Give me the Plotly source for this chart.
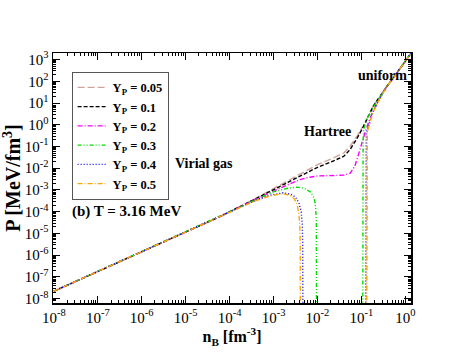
import plotly.graph_objects as go

# ---- data ----
# common low-density (virial) branch shared by all Y_P
n_low = [1e-8, 1e-7, 1e-6, 1e-5, 3e-5, 6e-5]
P_low = [2.2e-8, 1.8e-7, 1.45e-6, 1.15e-5, 3.1e-5, 5.9e-5]

# common high-density (uniform) branch
n_uni = [0.38, 0.63, 1.0, 1.35]
P_uni = [57.5, 224, 832, 2000]

n_005 = [3.5e-4, 2e-3, 6e-3, 1e-2, 2e-2, 4e-2, 5.5e-2, 8e-2, 0.11, 0.19]
P_005 = [3.63e-4, 2.5e-3, 8.3e-3, 1.45e-2, 2.6e-2, 5.0e-2, 0.1, 0.3, 0.89, 7.9]

n_01 = [3.5e-4, 2e-3, 6e-3, 1e-2, 2e-2, 4e-2, 5.5e-2, 8e-2, 0.11, 0.19]
P_01 = [3.5e-4, 2.04e-3, 6.3e-3, 1.1e-2, 1.9e-2, 3.55e-2, 7.1e-2, 0.24, 0.79, 7.6]

n_02 = [3.5e-4, 1e-3, 2e-3, 4e-3, 6.3e-3, 1e-2, 2e-2, 4e-2, 5.6e-2, 7.1e-2, 8.5e-2, 0.1, 0.12, 0.145, 0.178, 0.25]
P_02 = [3.3e-4, 8.9e-4, 1.66e-3, 3.0e-3, 3.8e-3, 4.4e-3, 4.7e-3, 4.8e-3, 6.0e-3, 1.26e-2, 4.0e-2, 0.126, 0.4, 1.26, 3.55, 14.1]

n_03_a = [3.5e-4, 1e-3, 2e-3, 3.4e-3, 5e-3, 7.1e-3, 8.5e-3, 9.1e-3, 9.44e-3, 9.55e-3, 9.55e-3]
P_03_a = [3.16e-4, 8.3e-4, 1.17e-3, 1.35e-3, 1.2e-3, 7.9e-4, 4.0e-4, 1.6e-4, 3.2e-5, 1e-6, 1e-9]
n_03_b = [0.1076, 0.1079, 0.1084, 0.1096, 0.1135, 0.132, 0.186, 0.251]
P_03_b = [1e-9, 1e-4, 3.2e-2, 0.2, 0.63, 1.7, 6.3, 15.8]

n_04_a = [3.47e-4, 7.9e-4, 1.66e-3, 2.5e-3, 3.16e-3, 3.8e-3, 4.27e-3, 4.52e-3, 4.62e-3, 4.68e-3]
P_04_a = [3.0e-4, 5.6e-4, 7.4e-4, 6.3e-4, 4.7e-4, 2.5e-4, 1e-4, 2.5e-5, 3.2e-6, 1e-9]
n_04_b = [0.1259, 0.1262, 0.1268, 0.1288, 0.1445, 0.186, 0.245]
P_04_b = [1e-9, 1e-4, 0.1, 0.4, 0.85, 4.2, 12.6]

n_05_a = [3.47e-4, 7.9e-4, 1.58e-3, 2.4e-3, 3.0e-3, 3.47e-3, 3.8e-3, 3.98e-3, 4.06e-3, 4.07e-3]
P_05_a = [2.9e-4, 5.2e-4, 6.8e-4, 5.6e-4, 3.8e-4, 2.0e-4, 7.9e-5, 2.0e-5, 2.5e-6, 1e-9]
n_05_b = [0.1327, 0.1330, 0.1337, 0.1365, 0.1514, 0.186, 0.251]
P_05_b = [1e-9, 1e-4, 0.1, 0.45, 1.0, 4.0, 13.2]

labels = ["0.05", "0.1", "0.2", "0.3", "0.4", "0.5"]
x_tick_exps = [-8, -7, -6, -5, -4, -3, -2, -1, 0]
y_tick_exps = [3, 2, 1, 0, -1, -2, -3, -4, -5, -6, -7, -8]

# ---- build series ----
series_x = [
    n_low + n_005 + n_uni,
    n_low + n_01 + n_uni,
    n_low + n_02 + n_uni,
    n_low + n_03_a + [None] + n_03_b + n_uni,
    n_low + n_04_a + [None] + n_04_b + n_uni,
    n_low + n_05_a + [None] + n_05_b + n_uni,
]
series_y = [
    P_low + P_005 + P_uni,
    P_low + P_01 + P_uni,
    P_low + P_02 + P_uni,
    P_low + P_03_a + [None] + P_03_b + P_uni,
    P_low + P_04_a + [None] + P_04_b + P_uni,
    P_low + P_05_a + [None] + P_05_b + P_uni,
]
colors = ["#cfa39a", "#000000", "#ff00ff", "#00dd00", "#0000ff", "#ffa500"]
dashes = ["7px,3px", "4px,2px", "5px,2px,1px,2px", "4px,2px,1px,2px,1px,2px", "1px,2px", "5px,2px,1px,2px"]

fig = go.Figure()
for xs, ys, c, d, lab in zip(series_x, series_y, colors, dashes, labels):
    fig.add_trace(go.Scatter(
        x=xs, y=ys, mode="lines",
        line=dict(color=c, width=1.4, dash=d),
        name="<b>Y<sub>P</sub> = %s</b>" % lab,
        connectgaps=False,
    ))

font = "Liberation Serif"
minor_vals = [m * 10.0 ** k for k in range(-9, 4) for m in range(2, 10)]

fig.update_layout(
    width=463, height=358,
    margin=dict(l=53, r=52, t=53, b=55, autoexpand=False),
    plot_bgcolor="white", paper_bgcolor="white",
    font=dict(family=font, size=13, color="black"),
    showlegend=True,
    legend=dict(
        x=0.052, y=0.925, xanchor="left", yanchor="top",
        bordercolor="#555555", borderwidth=1, bgcolor="white",
        font=dict(family=font, size=12.5, color="black"),
        tracegroupgap=0, itemwidth=30,
    ),
    xaxis=dict(
        type="log", range=[-8.02, 0.13], automargin=False,
        showline=True, linecolor="black", linewidth=1.5, mirror="allticks",
        ticks="inside", ticklen=7, tickcolor="black",
        tickvals=[10.0 ** e for e in x_tick_exps],
        ticktext=["10<sup>%d</sup>" % e for e in x_tick_exps],
        tickfont=dict(size=15),
        minor=dict(ticks="inside", ticklen=3, tickcolor="black", tickvals=minor_vals),
        showgrid=False, zeroline=False,
        title=dict(text="<b>n<sub>B</sub> [fm<sup>-3</sup>]</b>", font=dict(size=16), standoff=4),
    ),
    yaxis=dict(
        type="log", range=[-8.2, 3.3], automargin=False,
        showline=True, linecolor="black", linewidth=1.5, mirror="allticks",
        ticks="inside", ticklen=7, tickcolor="black",
        tickvals=[10.0 ** e for e in y_tick_exps],
        ticktext=["10<sup>%d</sup>" % e for e in y_tick_exps],
        tickfont=dict(size=15),
        minor=dict(ticks="inside", ticklen=3, tickcolor="black", tickvals=minor_vals),
        showgrid=False, zeroline=False,
        title=dict(text="<b>P [MeV/fm<sup>3</sup>]</b>", font=dict(size=20), standoff=1),
    ),
    annotations=[
        dict(x=-4.58, y=-1.76, xref="x", yref="y", text="<b>Virial gas</b>", showarrow=False, font=dict(size=14)),
        dict(x=-6.35, y=-4.0, xref="x", yref="y", text="<b>(b) T = 3.16 MeV</b>", showarrow=False, font=dict(size=15)),
        dict(x=-1.77, y=-0.32, xref="x", yref="y", text="<b>Hartree</b>", showarrow=False, font=dict(size=14)),
        dict(x=-0.51, y=2.27, xref="x", yref="y", text="<b>uniform</b>", showarrow=False, font=dict(size=14)),
    ],
)

fig.write_html(
    "out.html",
    config={"displayModeBar": False, "staticPlot": True},
    post_script="document.body.style.margin='0px';document.body.style.overflow='hidden';",
)
